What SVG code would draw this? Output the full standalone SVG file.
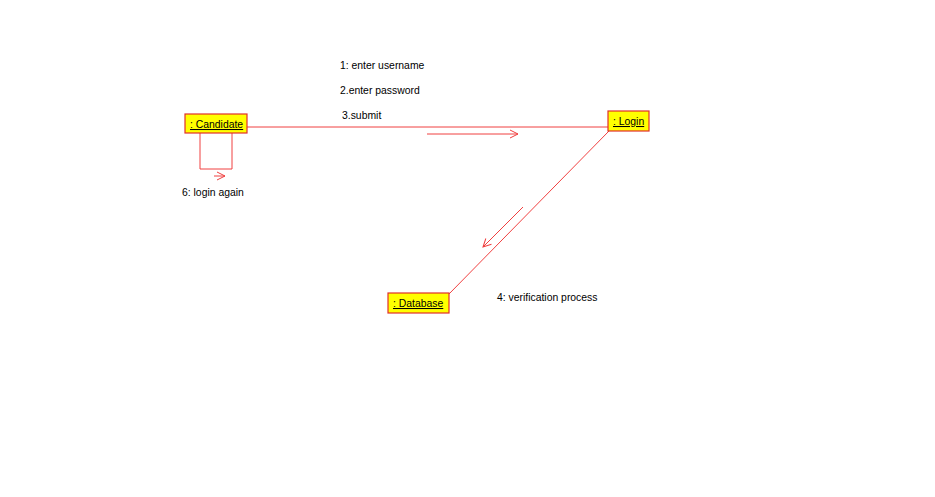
<svg xmlns="http://www.w3.org/2000/svg" width="935" height="497" viewBox="0 0 935 497">
<style>
.box{fill:#ffff00;stroke:#e0302a;stroke-width:1.2}
.nm{font-family:"Liberation Sans",Arial,sans-serif;font-size:10.4px;fill:#000;text-decoration:underline}
.lbl{font-family:"Liberation Sans",Arial,sans-serif;font-size:10.4px;fill:#000}
.ln{stroke:#f04040;stroke-width:1;fill:none}
</style>
<defs>
<marker id="ah" markerWidth="10" markerHeight="10" refX="9" refY="5" orient="auto" markerUnits="userSpaceOnUse">
<path d="M1,1 L9,5 L1,9" fill="none" stroke="#f04040" stroke-width="1"/>
</marker>
</defs>
<rect width="935" height="497" fill="#fff"/>
<g id="connectors">
<line class="ln" x1="247" y1="127" x2="608" y2="127"/>
<line class="ln" x1="609" y1="131" x2="449" y2="294"/>
<polyline class="ln" points="200,133 200,169 232,169 232,133"/>
<line class="ln" x1="427" y1="134" x2="518" y2="134" marker-end="url(#ah)"/>
<line class="ln" x1="523" y1="207" x2="483" y2="247" marker-end="url(#ah)"/>
<line class="ln" x1="214" y1="176" x2="225" y2="176" marker-end="url(#ah)"/>
</g>
<g id="candidate">
<rect class="box" x="185" y="114" width="62" height="19"/>
<text class="nm" x="190" y="128">: Candidate</text>
</g>
<g id="login">
<rect class="box" x="608" y="111" width="41" height="20"/>
<text class="nm" x="613" y="125">: Login</text>
</g>
<g id="database">
<rect class="box" x="388" y="293" width="61" height="20"/>
<text class="nm" x="393" y="307">: Database</text>
</g>
<g id="labels">
<text class="lbl" x="340" y="69">1: enter username</text>
<text class="lbl" x="340" y="94">2.enter password</text>
<text class="lbl" x="342" y="119">3.submit</text>
<text class="lbl" x="182" y="196">6: login again</text>
<text class="lbl" x="497" y="301">4: verification process</text>
</g>
</svg>
